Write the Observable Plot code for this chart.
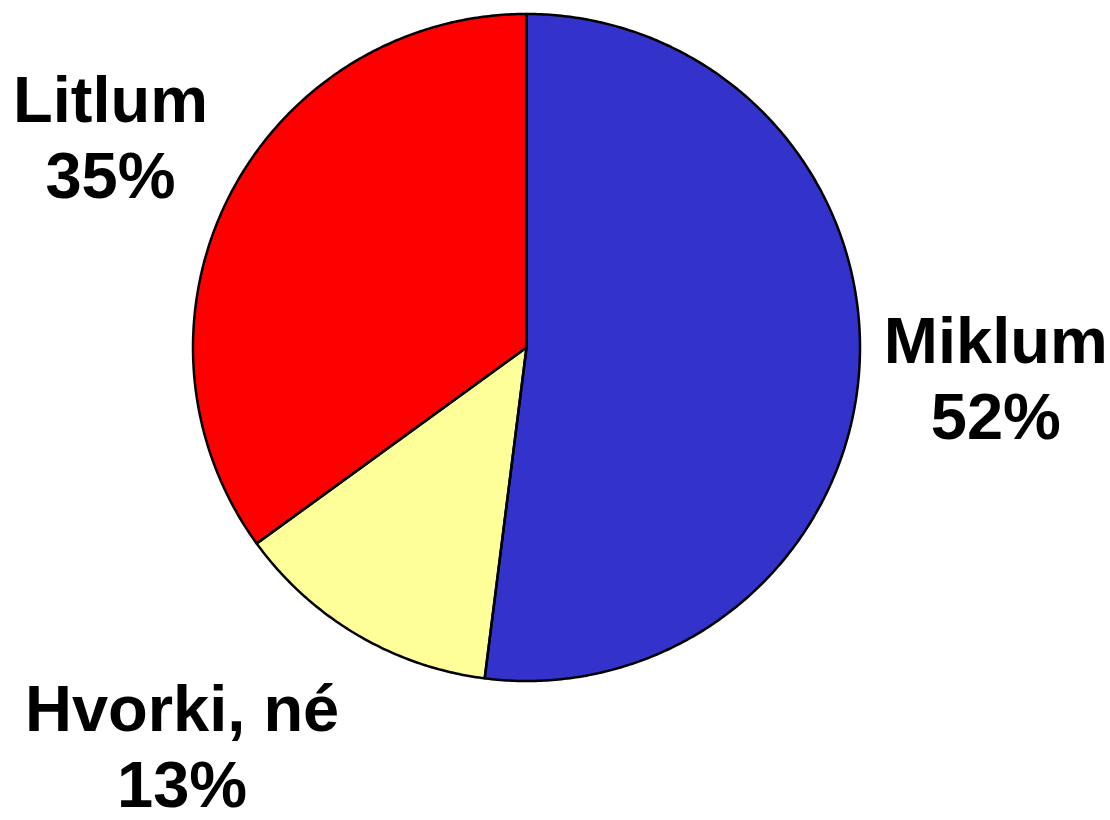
<!DOCTYPE html>
<html>
<head>
<meta charset="utf-8">
<script src="https://cdn.jsdelivr.net/npm/d3@7"></script>
<script src="https://cdn.jsdelivr.net/npm/@observablehq/plot@0.6"></script>
<style>
  html, body { margin: 0; padding: 0; background: #fff; }
  #chart svg { display: block; }
</style>
</head>
<body>
<div id="chart"></div>
<script>
// ---- data ----
const categories = ["Miklum", "Hvorki, né", "Litlum"];
const values = [52, 13, 35];
const colors = ["#3333CC", "#FFFF99", "#FF0000"];

// ---- layout ----
const W = 1110, H = 820;
const CX = 526, CY = 347, RPX = 333.5;
const labelRadius = 1.4;
// layout adjustments (data units) for labels pushed away from the centroid ray
const labelNudge = { "Hvorki, né": [-0.32, 0.015], "Miklum": [0.01, 0] };

const pie = d3.pie().sort(null).value(d => d.value);
const rows = categories.map((c, i) => ({ label: c, value: values[i], color: colors[i] }));
const arcs = pie(rows);

function slicePoints(a) {
  const pts = [{ x: 0, y: 0 }];
  const step = Math.PI / 360;
  for (let t = a.startAngle; t < a.endAngle; t += step) pts.push({ x: Math.sin(t), y: Math.cos(t) });
  pts.push({ x: Math.sin(a.endAngle), y: Math.cos(a.endAngle) });
  pts.push({ x: 0, y: 0 });
  return pts;
}

const labelData = arcs.map(a => {
  const m = (a.startAngle + a.endAngle) / 2;
  const n = labelNudge[a.data.label] || [0, 0];
  return {
    x: labelRadius * Math.sin(m) + n[0],
    y: labelRadius * Math.cos(m) + n[1],
    text: `${a.data.label}\n${a.data.value}%`
  };
});

const marks = [];
arcs.forEach(a => {
  marks.push(Plot.line(slicePoints(a), {
    x: "x", y: "y", fill: a.data.color, stroke: "none", curve: "linear"
  }));
});
arcs.forEach(a => {
  marks.push(Plot.line(slicePoints(a), {
    x: "x", y: "y", fill: "none", stroke: "#000", strokeWidth: 2.5,
    strokeLinejoin: "round", curve: "linear"
  }));
});
marks.push(Plot.text(labelData, {
  x: "x", y: "y", text: "text",
  fontSize: 65, fontWeight: "bold",
  fontFamily: "'Liberation Sans', Arial, sans-serif",
  fill: "#000", textAnchor: "middle", lineAnchor: "middle", lineHeight: 1.17
}));

const chart = Plot.plot({
  width: W, height: H,
  margin: 0,
  style: { background: "#fff", overflow: "visible" },
  x: { domain: [-CX / RPX, (W - CX) / RPX], range: [0, W], axis: null },
  y: { domain: [-(H - CY) / RPX, CY / RPX], range: [H, 0], axis: null },
  marks
});
document.getElementById("chart").appendChild(chart);
</script>
</body>
</html>
